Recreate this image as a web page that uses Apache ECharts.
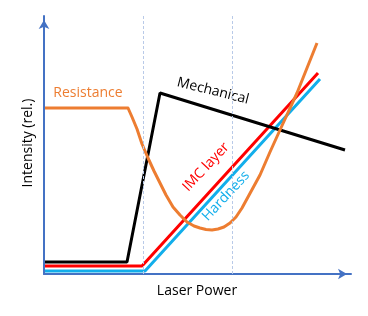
<!DOCTYPE html>
<html><head><meta charset="utf-8">
<script src="https://cdn.jsdelivr.net/npm/echarts@6/dist/echarts.min.js"></script>
<style>html,body{margin:0;padding:0;background:#fff}#c{width:368px;height:316px}</style>
</head><body><div id="c"></div>
<script>
// values in relative units (x: laser power, y: intensity)
const mechanicalX = [1, 83, 116, 301];
const mechanicalY = [12, 12, 181, 124];
const imcX = [1, 98, 274];
const imcY = [8, 8, 201];
const hardnessX = [1, 101, 276];
const hardnessY = [3, 3, 195];
const resistanceX = [1, 84, 88, 93, 98, 104, 110, 116, 122, 129, 136, 143, 150, 156, 162, 168, 174, 180, 186, 192, 198, 204, 210, 216, 226, 236, 253, 273];
const resistanceY = [166, 166, 157, 145, 130, 116, 103, 91, 79, 67, 59, 52, 48, 46, 44.5, 44, 45, 47, 51, 57, 66, 77, 88, 99, 122, 144, 181, 231];
const guideX = [99, 188];
const labels = ['Resistance', 'Mechanical', 'IMC layer', 'Hardness'];

const zip = (xs, ys) => xs.map((x, i) => [x, ys[i]]);
const chart = echarts.init(document.getElementById('c'), null, {renderer: 'canvas'});
const axisCol = '#4472C4';
const ff = '"Open Sans", "Noto Sans", sans-serif';
chart.setOption({
  animation: false,
  grid: {left: 44, top: 16, width: 307, height: 258},
  xAxis: {type: 'value', min: 0, max: 307, splitLine: {show: false}, axisTick: {show: false}, axisLabel: {show: false},
    axisLine: {onZero: false, symbol: ['none', 'arrow'], symbolSize: [8, 9], symbolOffset: [0, -4], lineStyle: {color: axisCol, width: 2}}},
  yAxis: {type: 'value', min: 0, max: 258, splitLine: {show: false}, axisTick: {show: false}, axisLabel: {show: false},
    axisLine: {onZero: false, symbol: ['none', 'arrow'], symbolSize: [8, 9], symbolOffset: [0, -4], lineStyle: {color: axisCol, width: 2}}},
  series: [
    {type: 'line', data: [], markLine: {silent: true, symbol: 'none', label: {show: false},
      lineStyle: {color: '#B9CAE8', type: [3, 2], width: 1}, data: guideX.map(v => ({xAxis: v}))}},
    {type: 'line', name: labels[3], data: zip(hardnessX, hardnessY), showSymbol: false, lineStyle: {color: '#12AEEB', width: 3}},
    {type: 'line', name: labels[2], data: zip(imcX, imcY), showSymbol: false, lineStyle: {color: '#FF0000', width: 3}},
    {type: 'line', name: labels[1], data: zip(mechanicalX, mechanicalY), showSymbol: false, lineStyle: {color: '#000000', width: 3}},
    {type: 'line', name: labels[0], data: zip(resistanceX, resistanceY), showSymbol: false, lineStyle: {color: '#ED7D31', width: 3, join: 'round'}}
  ],
  graphic: [
    {type: 'text', x: 88, y: 93, style: {text: labels[0], fill: '#ED7D31', font: '14px ' + ff, align: 'center', verticalAlign: 'middle'}},
    {type: 'text', x: 213, y: 91, rotation: -14 * Math.PI / 180, style: {text: labels[1], fill: '#000', font: '14px ' + ff, align: 'center', verticalAlign: 'middle'}},
    {type: 'text', x: 206, y: 167, rotation: 47 * Math.PI / 180, style: {text: labels[2], fill: '#FF0000', font: '14px ' + ff, align: 'center', verticalAlign: 'middle'}},
    {type: 'text', x: 226, y: 196, rotation: 47 * Math.PI / 180, style: {text: labels[3], fill: '#12AEEB', font: '14px ' + ff, align: 'center', verticalAlign: 'middle'}},
    {type: 'text', x: 28, y: 143, rotation: Math.PI / 2, style: {text: 'Intensity (rel.)', fill: '#000', font: '14px ' + ff, align: 'center', verticalAlign: 'middle'}},
    {type: 'text', x: 197, y: 291, style: {text: 'Laser Power', fill: '#000', font: '14px ' + ff, align: 'center', verticalAlign: 'middle'}}
  ]
});
</script></body></html>
